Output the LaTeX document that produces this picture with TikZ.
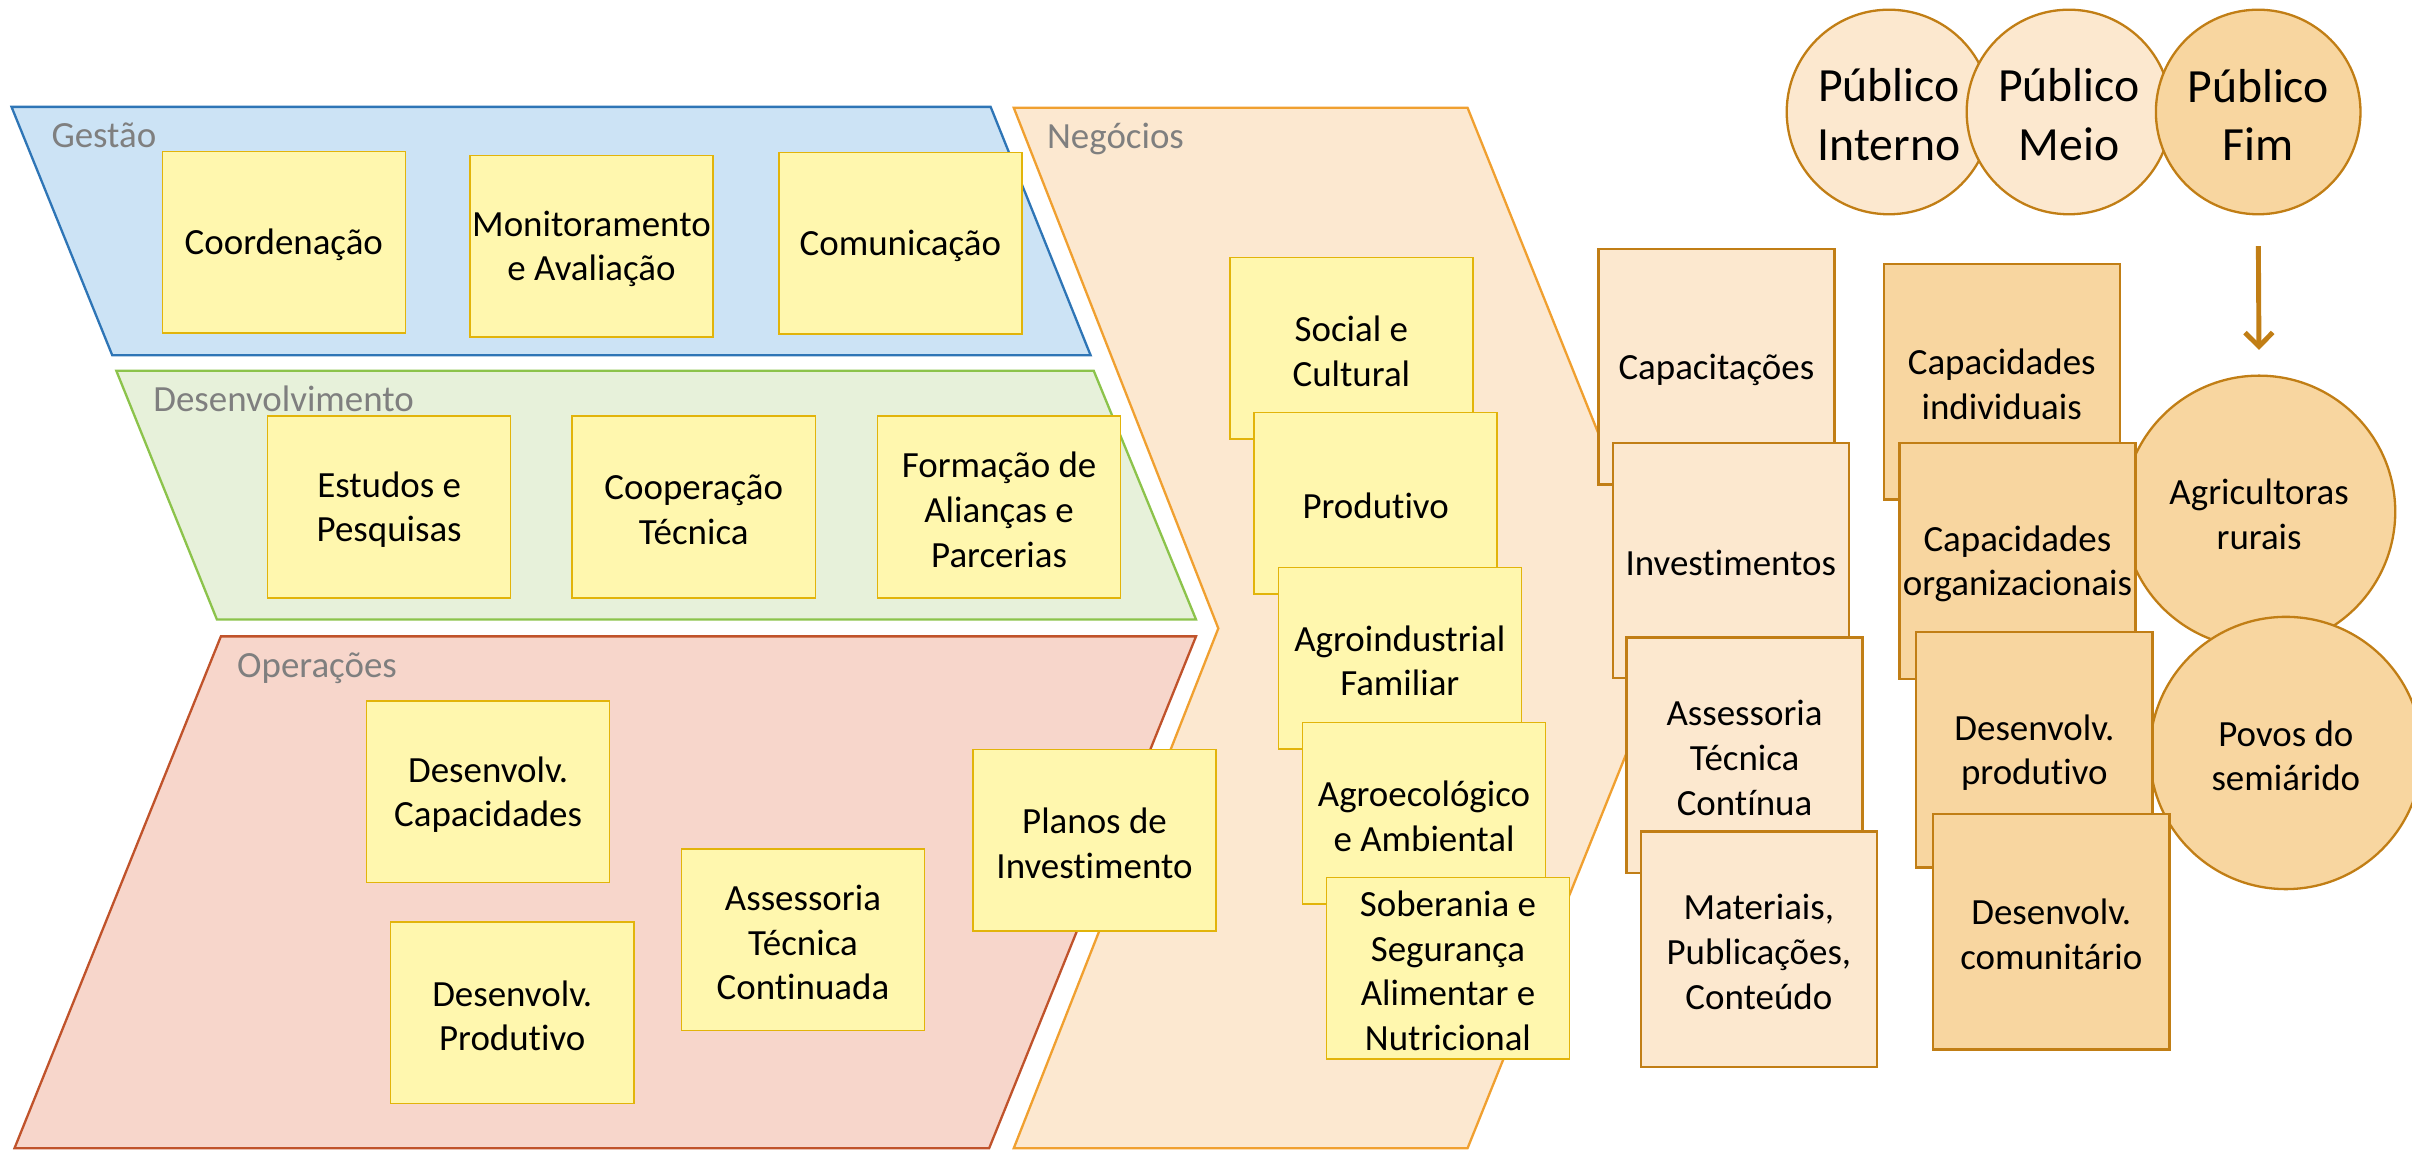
\documentclass[tikz,border=0pt]{standalone}
\usepackage{fontspec}
\setmainfont{Carlito}[Ligatures=NoCommon]
\usetikzlibrary{arrows.meta}
\definecolor{bfill}{HTML}{CCE3F5}
\definecolor{bline}{HTML}{2E75B6}
\definecolor{gfill}{HTML}{E7F1DA}
\definecolor{gline}{HTML}{8CC34B}
\definecolor{rfill}{HTML}{F7D6CB}
\definecolor{rline}{HTML}{C0532B}
\definecolor{cfill}{HTML}{FCE8D0}
\definecolor{cline}{HTML}{F0A030}
\definecolor{yfill}{HTML}{FFF7AE}
\definecolor{yline}{HTML}{E2B40A}
\definecolor{olight}{HTML}{FCE8CF}
\definecolor{odark}{HTML}{F8D6A0}
\definecolor{oline}{HTML}{C17E15}
\definecolor{lgray}{HTML}{7F7F7F}
\tikzset{
  txt/.style={font=\fontsize{24}{29}\selectfont},
  btxt/.style={txt, align=center, inner sep=0pt},
  ctxt/.style={font=\fontsize{31}{38}\selectfont, align=center, inner sep=0pt},
  ybox/.style={draw=yline, fill=yfill, line width=1pt, minimum width=158pt, minimum height=118pt, inner sep=0pt},
  obox/.style={draw=oline, fill=olight, line width=1.5pt, minimum width=153.5pt, minimum height=153pt, inner sep=0pt},
  dbox/.style={obox, fill=odark},
  pcirc/.style={circle, draw=oline, fill=olight, line width=1.5pt, minimum size=133pt, inner sep=0pt},
  bcirc/.style={circle, draw=oline, fill=odark, line width=1.5pt, minimum size=177pt, inner sep=0pt},
  lbl/.style={anchor=base west, text=lgray, inner sep=0pt, txt},
  band/.style={line width=1.5pt, line join=miter}
}
% box with its text: style, name, centre, text
\newcommand{\mybx}[4]{\node[#1] (#2) at (#3) {}; \node[btxt] (#2t) at ([yshift=-1.8pt]#2.center) {#4};}
\newcommand{\mycx}[4]{\node[#1] (#2) at (#3) {}; \node[ctxt] (#2t) at ([yshift=-1.8pt]#2.center) {#4};}
\begin{document}
\begin{tikzpicture}[x=1pt,y=-1pt]
\useasboundingbox (0,0) rectangle (1568,748.25);
% bands
\draw[band, draw=bline, fill=bfill] (7.5,69.5) -- (644,69.5) -- (709,231) -- (73,231) -- cycle;
\draw[band, draw=gline, fill=gfill] (75.6,241) -- (711,241) -- (777.5,402.7) -- (141,402.7) -- cycle;
\draw[band, draw=rline, fill=rfill] (143.6,413.7) -- (777.5,413.7) -- (643,746.5) -- (9.4,746.5) -- cycle;
\draw[band, draw=cline, fill=cfill] (659,70) -- (954,70) -- (1090,408.5) -- (954,746.5) -- (659,746.5) -- (792,408.5) -- cycle;
% labels
\node[lbl] (lg) at (33.3,96) {Gestão};
\node[lbl] (ld) at (99.5,267.5) {Desenvolvimento};
\node[lbl] (lo) at (154,440.5) {Operações};
\node[lbl] (ln) at (680.5,96.5) {Negócios};
% Gestao
\mybx{ybox}{coord}{184.5,157.5}{Coordenação}
\mybx{ybox}{monit}{384.5,160}{Monitoramento\\e Avaliação}
\mybx{ybox}{comun}{585.3,158}{Comunicação}
% Desenvolvimento
\mybx{ybox}{estud}{253,329.6}{Estudos e\\Pesquisas}
\mybx{ybox}{coop}{451,329.6}{Cooperação\\Técnica}
\mybx{ybox}{form}{649.5,329.6}{Formação de\\Alianças e\\Parcerias}
% Operacoes
\mybx{ybox}{dcap}{317.3,514.8}{Desenvolv.\\Capacidades}
\mybx{ybox}{dprod}{333,658.5}{Desenvolv.\\Produtivo}
\mybx{ybox}{atc}{522,611}{Assessoria\\Técnica\\Continuada}
\mybx{ybox}{planos}{711.5,546.3}{Planos de\\Investimento}
% Negocios
\mybx{ybox}{soc}{878.5,226.4}{Social e\\Cultural}
\mybx{ybox}{prod}{894.3,327.2}{Produtivo}
\mybx{ybox}{agroi}{910,427.8}{Agroindustrial\\Familiar}
\mybx{ybox}{agroe}{925.7,528.7}{Agroecológico\\e Ambiental}
\mybx{ybox}{sob}{941.3,629.3}{Soberania e\\Segurança\\Alimentar e\\Nutricional}
% publico
\mycx{pcirc}{pint}{1228,72.8}{Público\\Interno}
\mycx{pcirc}{pmeio}{1345,72.8}{Público\\Meio}
\mycx{pcirc, fill=odark}{pfim}{1468,72.8}{Público\\Fim}
% big circles
\mybx{bcirc}{agr}{1468.6,332.7}{Agricultoras\\rurais}
\mybx{bcirc}{povos}{1486,489.5}{Povos do\\semiárido}
\draw[draw=oline, line width=3.2pt, -{Straight Barb[length=9pt,width=18pt]}, shorten <=20pt, shorten >=16pt] (pfim.south) -- (agr.north);
% light boxes
\mybx{obox}{capac}{1115.8,238.5}{Capacitações}
\mybx{obox}{invest}{1125.2,364.4}{Investimentos}
\mybx{obox}{atcont}{1134.1,490.9}{Assessoria\\Técnica\\Contínua}
\mybx{obox}{mat}{1143.4,617}{Materiais,\\Publicações,\\Conteúdo}
% dark boxes
\mybx{dbox}{cind}{1301.3,248.2}{Capacidades\\individuais}
\mybx{dbox}{corg}{1311.5,364.7}{Capacidades\\organizacionais}
\mybx{dbox}{dprd}{1322.5,487.5}{Desenvolv.\\produtivo}
\mybx{dbox}{dcom}{1333.5,605.7}{Desenvolv.\\comunitário}
\end{tikzpicture}
\end{document}
